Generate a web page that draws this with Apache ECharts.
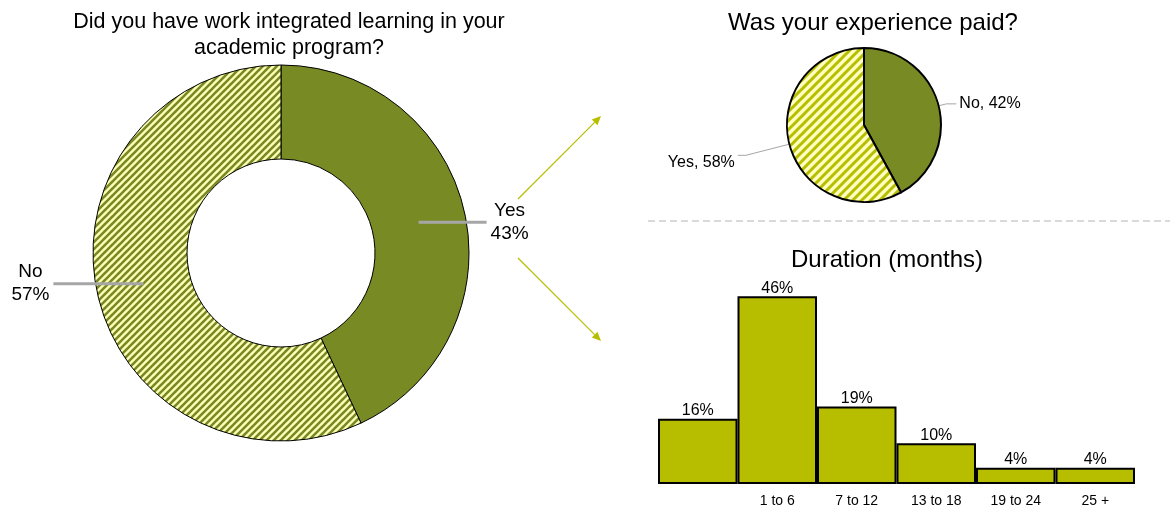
<!DOCTYPE html>
<html>
<head>
<meta charset="utf-8">
<title>Work integrated learning</title>
<script src="https://cdn.jsdelivr.net/npm/echarts@6/dist/echarts.min.js"></script>
<style>
  html, body { margin: 0; padding: 0; background: #ffffff; }
  #chart { width: 1170px; height: 508px; }
</style>
</head>
<body>
<div id="chart"></div>
<script>
// Survey answers
const wilTitle = 'Did you have work integrated learning in your\nacademic program?';
const wilCategories = ['Yes', 'No'];
const wilValues = [43, 57];

const paidTitle = 'Was your experience paid?';
const paidCategories = ['No', 'Yes'];
const paidValues = [42, 58];

const durationTitle = 'Duration (months)';
const durationCategories = ['', '1 to 6', '7 to 12', '13 to 18', '19 to 24', '25 +'];
const durationValues = [16, 46, 19, 10, 4, 4];

const FONT = '"Liberation Sans", Arial, sans-serif';
const OLIVE = '#788a24';
const LIME = '#b7be00';
const PALE = '#ffffb8';

// Diagonal "/" stripe tile used as a repeating fill
function stripeTile(size, bg, fg, width) {
  const c = document.createElement('canvas');
  c.width = size; c.height = size;
  const g = c.getContext('2d');
  g.fillStyle = bg;
  g.fillRect(0, 0, size, size);
  g.strokeStyle = fg;
  g.lineWidth = width;
  g.lineCap = 'square';
  g.beginPath();
  for (const k of [-size, 0, size]) {
    g.moveTo(k, size);
    g.lineTo(k + size, 0);
  }
  g.stroke();
  return { image: c, repeat: 'repeat' };
}

const darkHatch = stripeTile(7, PALE, OLIVE, 2.6);
const limeHatch = stripeTile(9, '#ffffc0', LIME, 3);

// Arrow: thin line with a filled head at the end
function arrow(x1, y1, x2, y2) {
  const dx = x2 - x1, dy = y2 - y1;
  const len = Math.hypot(dx, dy);
  const ux = dx / len, uy = dy / len;
  const hl = 9, hw = 4;
  const bx = x2 - ux * hl, by = y2 - uy * hl;
  return [
    { type: 'line', shape: { x1: x1, y1: y1, x2: bx, y2: by },
      style: { stroke: LIME, lineWidth: 1.2 }, silent: true },
    { type: 'polygon',
      shape: { points: [[x2, y2], [bx - uy * hw, by + ux * hw], [bx + uy * hw, by - ux * hw]] },
      style: { fill: LIME }, silent: true }
  ];
}

const wilSlices = wilCategories.map((name, i) => ({
  name: name,
  value: wilValues[i],
  itemStyle: { color: i === 0 ? OLIVE : darkHatch }
}));
const wilLabelLen = [68, 90];
const wilLabelSlices = wilCategories.map((name, i) => ({
  name: name,
  value: wilValues[i],
  labelLine: { length: 0, length2: wilLabelLen[i] }
}));

const paidLine = [{ length: 8, length2: 10 }, { length: 45, length2: 8 }];
const paidSlices = paidCategories.map((name, i) => ({
  name: name,
  value: paidValues[i],
  itemStyle: { color: i === 0 ? OLIVE : limeHatch },
  labelLine: paidLine[i]
}));

const chart = echarts.init(document.getElementById('chart'), null, { renderer: 'canvas' });

const titleText = (size, lh) => ({
  fontFamily: FONT, fontSize: size, fontWeight: 'normal', color: '#000', lineHeight: lh
});

const option = {
  backgroundColor: '#ffffff',
  animation: false,
  textStyle: { fontFamily: FONT },
  title: [
    { text: wilTitle, left: 289, top: 9, padding: 0, textAlign: 'center', textStyle: titleText(21.5, 26) },
    { text: paidTitle, left: 873, top: 10, padding: 0, textAlign: 'center', textStyle: titleText(24, 26) },
    { text: durationTitle, left: 887, top: 247, padding: 0, textAlign: 'center', textStyle: titleText(24, 26) }
  ],
  grid: { left: 658, right: 35, top: 280, bottom: 20, containLabel: false },
  xAxis: {
    type: 'category',
    data: durationCategories,
    axisLine: { show: false },
    axisTick: { show: false },
    axisLabel: { fontFamily: FONT, fontSize: 14, color: '#000', margin: 10, interval: 0 }
  },
  yAxis: { type: 'value', min: 0, max: 50, show: false, splitLine: { show: false } },
  series: [
    {
      name: 'wil',
      type: 'pie',
      z: 2,
      center: [281, 253],
      radius: [94, 188],
      startAngle: 90,
      clockwise: true,
      silent: true,
      label: { show: false },
      labelLine: { show: false },
      itemStyle: { borderColor: '#000', borderWidth: 1 },
      emphasis: { disabled: true },
      data: wilSlices
    },
    {
      // transparent copy whose label lines start at mid-ring
      name: 'wilLabels',
      type: 'pie',
      z: 6,
      center: [281, 253],
      radius: [0, 141],
      startAngle: 90,
      clockwise: true,
      silent: true,
      itemStyle: { color: 'rgba(0,0,0,0)', borderWidth: 0 },
      emphasis: { disabled: true },
      label: {
        show: true,
        position: 'outside',
        formatter: '{t|{b}}\n{t|{c}%}',
        distanceToLabelLine: 3,
        rich: { t: { fontFamily: FONT, fontSize: 19, color: '#000', width: 40, align: 'center', lineHeight: 23 } }
      },
      labelLine: { show: true, lineStyle: { color: '#a6a6a6', width: 3 } },
      data: wilLabelSlices
    },
    {
      name: 'paid',
      type: 'pie',
      center: [864, 125],
      radius: [0, 77],
      startAngle: 90,
      clockwise: true,
      silent: true,
      itemStyle: { borderColor: '#000', borderWidth: 2 },
      emphasis: { disabled: true },
      label: {
        show: true,
        position: 'outside',
        formatter: '{b}, {c}%',
        fontFamily: FONT,
        fontSize: 16,
        color: '#000',
        distanceToLabelLine: 3
      },
      labelLine: { show: true, lineStyle: { color: '#a6a6a6', width: 1 } },
      labelLayout: function (params) {
        return params.dataIndex === 1 ? { dy: 7 } : {};
      },
      data: paidSlices
    },
    {
      name: 'duration',
      type: 'bar',
      barCategoryGap: 0,
      silent: true,
      itemStyle: { color: LIME, borderColor: '#000', borderWidth: 2 },
      label: {
        show: true,
        position: 'top',
        distance: 0,
        formatter: '{c}%',
        fontFamily: FONT,
        fontSize: 16,
        color: '#000'
      },
      data: durationValues
    }
  ],
  graphic: [
    { type: 'line', shape: { x1: 648, y1: 221, x2: 1170, y2: 221 },
      style: { stroke: '#d9d9d9', lineWidth: 2, lineDash: [7, 4] }, silent: true },
    ...arrow(518, 199, 601, 116),
    ...arrow(518, 258, 601, 341)
  ]
};

chart.setOption(option);
</script>
</body>
</html>
